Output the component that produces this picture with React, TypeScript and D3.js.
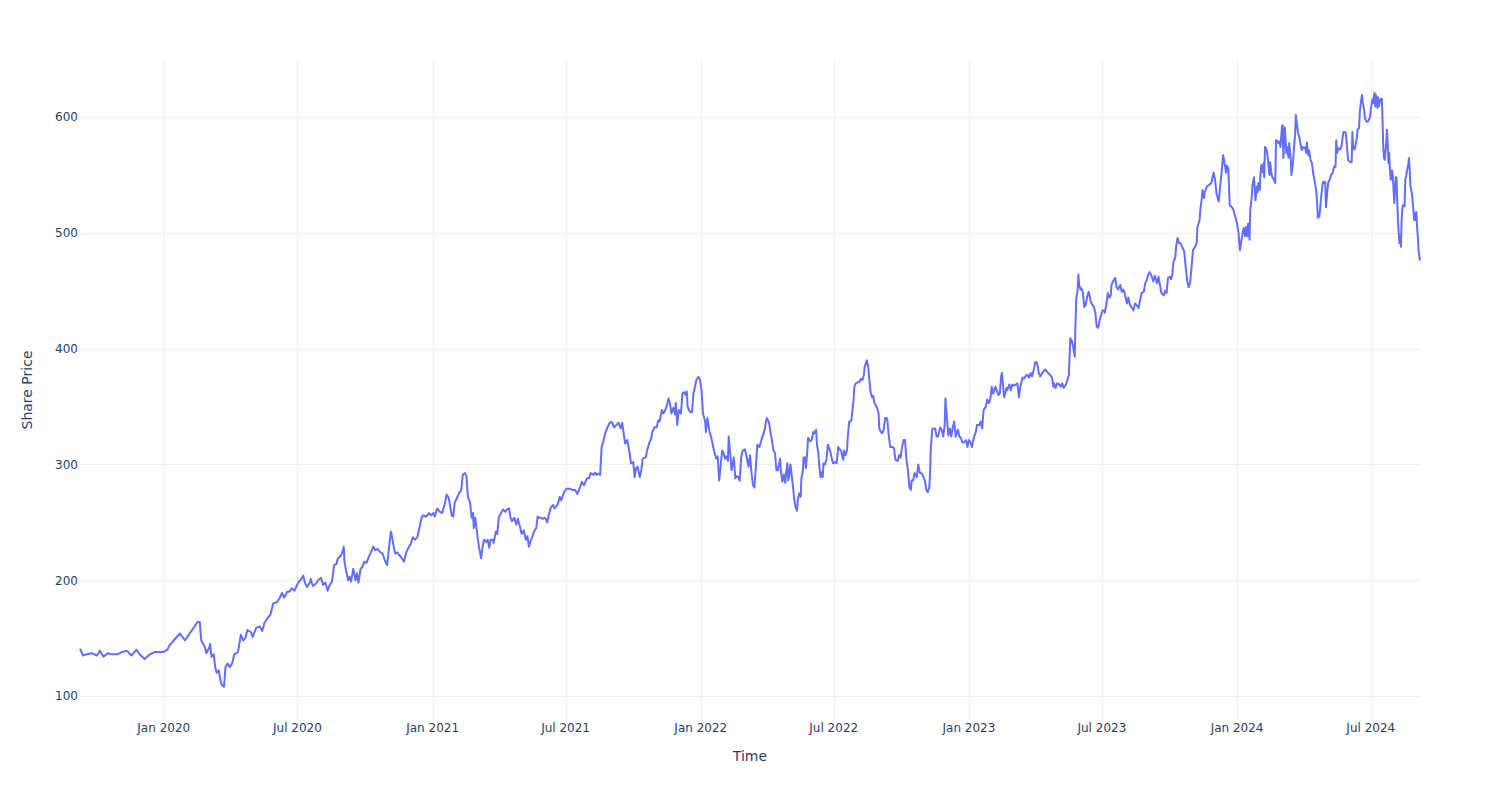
import React from "react";
import * as d3 from "d3";

type Pt = [string, number];

const prices2019: Pt[] = [
  ["2019-09-09",141],["2019-09-13",135],["2019-09-18",136],["2019-09-25",137],["2019-10-02",135],["2019-10-06",139],["2019-10-11",134],["2019-10-17",137],["2019-10-22",136],["2019-10-30",136],["2019-11-05",138],["2019-11-12",139],["2019-11-18",135],["2019-11-25",140],["2019-11-29",136],["2019-12-06",132],["2019-12-13",136],["2019-12-20",138],["2019-12-31",138],
];

const prices2020: Pt[] = [
  ["2020-01-06",140],["2020-01-09",144],["2020-01-16",149],["2020-01-23",154],["2020-01-30",148],["2020-02-05",154],["2020-02-12",160],["2020-02-16",164],["2020-02-19",164],["2020-02-21",148],["2020-02-26",142],["2020-02-28",137],["2020-03-03",142],["2020-03-04",145],["2020-03-06",134],["2020-03-09",136],["2020-03-11",125],["2020-03-13",120],["2020-03-16",122],["2020-03-18",114],["2020-03-20",109.5],["2020-03-23",108],["2020-03-25",125],["2020-03-28",128],["2020-03-31",125],["2020-04-03",128],["2020-04-06",136],["2020-04-11",138],["2020-04-15",153],["2020-04-18",148],["2020-04-21",150],["2020-04-24",157],["2020-04-29",155],["2020-05-01",151],["2020-05-06",159],["2020-05-11",160],["2020-05-14",156],["2020-05-17",163],["2020-05-22",168],["2020-05-25",170],["2020-05-29",180],["2020-06-03",181],["2020-06-07",185],["2020-06-10",189],["2020-06-13",185],["2020-06-17",190],["2020-06-20",190],["2020-06-23",193],["2020-06-27",191],["2020-07-02",198],["2020-07-05",200],["2020-07-09",204],["2020-07-11",198],["2020-07-14",194],["2020-07-18",198],["2020-07-19",201],["2020-07-22",195],["2020-07-26",197],["2020-07-29",200],["2020-08-02",202],["2020-08-05",196],["2020-08-08",198],["2020-08-11",191],["2020-08-14",196],["2020-08-17",199],["2020-08-20",213],["2020-08-23",214],["2020-08-25",219],["2020-08-29",221],["2020-08-31",224],["2020-09-02",229],["2020-09-03",216],["2020-09-05",209],["2020-09-08",200],["2020-09-10",203],["2020-09-12",199],["2020-09-15",210],["2020-09-18",200],["2020-09-20",206],["2020-09-22",198],["2020-09-25",210],["2020-09-27",211],["2020-09-30",216],["2020-10-03",215],["2020-10-06",220],["2020-10-09",224],["2020-10-12",229],["2020-10-15",226],["2020-10-18",227],["2020-10-22",224],["2020-10-25",223],["2020-10-28",217],["2020-10-31",213],["2020-11-02",224],["2020-11-05",242],["2020-11-06",240],["2020-11-09",229],["2020-11-11",223],["2020-11-14",224],["2020-11-16",222],["2020-11-19",220],["2020-11-23",216],["2020-11-26",224],["2020-11-29",228],["2020-12-02",231],["2020-12-05",237],["2020-12-08",235],["2020-12-11",237],["2020-12-14",245],["2020-12-17",254],["2020-12-19",256],["2020-12-23",255],["2020-12-27",258],["2020-12-30",256],
];

const prices2021: Pt[] = [
  ["2021-01-02",258],["2021-01-04",255],["2021-01-07",262],["2021-01-11",259],["2021-01-14",258],["2021-01-18",267],["2021-01-20",274],["2021-01-23",271],["2021-01-27",256],["2021-01-29",255],["2021-01-31",267],["2021-02-03",271],["2021-02-06",275],["2021-02-09",278],["2021-02-11",291],["2021-02-14",292.5],["2021-02-16",290],["2021-02-18",272],["2021-02-21",267],["2021-02-23",254],["2021-02-25",258],["2021-02-26",245],["2021-02-28",254],["2021-03-03",238],["2021-03-05",229],["2021-03-08",219],["2021-03-10",229],["2021-03-12",235],["2021-03-15",233],["2021-03-17",235],["2021-03-19",228],["2021-03-21",235],["2021-03-24",235],["2021-03-25",232],["2021-03-28",242],["2021-03-30",240],["2021-04-01",254],["2021-04-04",258],["2021-04-07",261],["2021-04-10",259],["2021-04-12",261],["2021-04-15",262],["2021-04-17",254],["2021-04-19",251],["2021-04-22",254],["2021-04-25",248],["2021-04-27",253],["2021-04-30",246],["2021-05-02",240],["2021-05-05",243],["2021-05-08",235],["2021-05-10",238],["2021-05-12",229],["2021-05-15",235],["2021-05-17",238],["2021-05-19",242],["2021-05-22",245],["2021-05-24",255],["2021-05-26",254],["2021-05-28",254],["2021-05-31",253],["2021-06-03",254],["2021-06-06",250],["2021-06-08",256],["2021-06-11",263],["2021-06-14",265],["2021-06-16",262],["2021-06-20",265],["2021-06-23",272],["2021-06-25",269],["2021-06-29",276],["2021-07-02",279],["2021-07-07",279],["2021-07-10",278],["2021-07-14",278],["2021-07-17",274.5],["2021-07-20",279],["2021-07-23",285],["2021-07-26",282],["2021-07-30",288],["2021-08-02",288],["2021-08-04",292.5],["2021-08-08",291],["2021-08-10",293],["2021-08-12",291],["2021-08-14",292],["2021-08-17",291],["2021-08-19",315],["2021-08-21",319],["2021-08-24",327],["2021-08-27",332],["2021-08-30",336],["2021-09-02",336.6],["2021-09-05",332],["2021-09-08",334],["2021-09-11",336],["2021-09-14",331],["2021-09-16",336],["2021-09-18",327],["2021-09-20",318],["2021-09-23",321],["2021-09-26",310],["2021-09-28",301],["2021-10-01",302],["2021-10-03",289],["2021-10-05",297],["2021-10-07",298],["2021-10-10",289],["2021-10-12",295],["2021-10-14",305],["2021-10-18",306],["2021-10-20",312],["2021-10-23",319],["2021-10-25",321],["2021-10-27",328],["2021-10-30",332],["2021-11-02",332],["2021-11-04",338],["2021-11-06",337],["2021-11-09",347],["2021-11-11",344],["2021-11-13",346],["2021-11-16",351],["2021-11-18",357],["2021-11-20",353],["2021-11-22",344],["2021-11-25",349],["2021-11-27",343],["2021-11-28",353],["2021-11-30",334],["2021-12-02",347],["2021-12-05",344],["2021-12-07",361],["2021-12-09",362.5],["2021-12-11",360],["2021-12-13",363],["2021-12-14",350],["2021-12-16",347],["2021-12-18",345],["2021-12-20",345],["2021-12-22",361],["2021-12-24",367],["2021-12-26",373],["2021-12-29",375.5],["2021-12-31",373],
];

const prices2022: Pt[] = [
  ["2022-01-02",364],["2022-01-04",344],["2022-01-07",337],["2022-01-08",328],["2022-01-10",340],["2022-01-13",328],["2022-01-15",324],["2022-01-17",318],["2022-01-19",312],["2022-01-22",305],["2022-01-24",307],["2022-01-26",286],["2022-01-28",298],["2022-01-30",312],["2022-02-01",310],["2022-02-03",305],["2022-02-05",307],["2022-02-07",303],["2022-02-08",324],["2022-02-10",310],["2022-02-12",295],["2022-02-15",306],["2022-02-17",288],["2022-02-19",290],["2022-02-21",289],["2022-02-23",286],["2022-02-25",306],["2022-02-27",312],["2022-03-02",313],["2022-03-04",308],["2022-03-07",298],["2022-03-09",308],["2022-03-11",293],["2022-03-13",282],["2022-03-15",280],["2022-03-17",298],["2022-03-19",317],["2022-03-22",315],["2022-03-24",320],["2022-03-26",324],["2022-03-29",330],["2022-03-31",338],["2022-04-01",340],["2022-04-04",336],["2022-04-06",327],["2022-04-07",324],["2022-04-10",312],["2022-04-12",310],["2022-04-14",295],["2022-04-16",295],["2022-04-19",305],["2022-04-20",295],["2022-04-22",285],["2022-04-24",291],["2022-04-26",284],["2022-04-27",292],["2022-04-29",301],["2022-04-30",286],["2022-05-01",289],["2022-05-03",300],["2022-05-05",289],["2022-05-07",278],["2022-05-08",271],["2022-05-10",263],["2022-05-12",260],["2022-05-13",269],["2022-05-15",275],["2022-05-17",272],["2022-05-18",288],["2022-05-20",295],["2022-05-21",306],["2022-05-23",306],["2022-05-24",297],["2022-05-26",311],["2022-05-27",323],["2022-05-30",320],["2022-06-01",321],["2022-06-03",328],["2022-06-05",327],["2022-06-07",330],["2022-06-08",318],["2022-06-10",310],["2022-06-11",301],["2022-06-13",289],["2022-06-14",293],["2022-06-16",289],["2022-06-17",301],["2022-06-19",300],["2022-06-21",304],["2022-06-23",317],["2022-06-26",312],["2022-06-28",306],["2022-06-30",301],["2022-07-03",302],["2022-07-05",301],["2022-07-07",315],["2022-07-09",313],["2022-07-11",312],["2022-07-13",306],["2022-07-14",304],["2022-07-15",312],["2022-07-17",308],["2022-07-19",312],["2022-07-20",323],["2022-07-22",337],["2022-07-24",337],["2022-07-25",338],["2022-07-28",356],["2022-07-29",367],["2022-07-31",370],["2022-08-03",371],["2022-08-05",371],["2022-08-07",374],["2022-08-09",373],["2022-08-11",377],["2022-08-12",384],["2022-08-14",388],["2022-08-15",390],["2022-08-17",384],["2022-08-18",376],["2022-08-20",363],["2022-08-22",358],["2022-08-24",359],["2022-08-25",354],["2022-08-27",351],["2022-08-29",349],["2022-08-31",344],["2022-09-01",331],["2022-09-03",328],["2022-09-05",327],["2022-09-07",330],["2022-09-09",340],["2022-09-11",340],["2022-09-12",338],["2022-09-14",324],["2022-09-16",315],["2022-09-19",315],["2022-09-21",314],["2022-09-23",304],["2022-09-26",303],["2022-09-28",308],["2022-09-30",306],["2022-10-02",315],["2022-10-04",321],["2022-10-06",321],["2022-10-08",304],["2022-10-10",295],["2022-10-12",280],["2022-10-14",278],["2022-10-15",286],["2022-10-17",286],["2022-10-19",292.5],["2022-10-22",289],["2022-10-24",300],["2022-10-26",293],["2022-10-29",292],["2022-10-31",289],["2022-11-02",286],["2022-11-04",278],["2022-11-06",276],["2022-11-08",280],["2022-11-09",291],["2022-11-10",312],["2022-11-12",330],["2022-11-13",331],["2022-11-16",331],["2022-11-18",324],["2022-11-20",324],["2022-11-23",332],["2022-11-25",330],["2022-11-27",324],["2022-11-29",334],["2022-11-30",357],["2022-12-02",340],["2022-12-04",325],["2022-12-06",331],["2022-12-08",324],["2022-12-10",332],["2022-12-12",337],["2022-12-14",324],["2022-12-17",330],["2022-12-19",324],["2022-12-21",323],["2022-12-23",319],["2022-12-25",319],["2022-12-28",321],["2022-12-30",315],
];

const prices2023: Pt[] = [
  ["2023-01-01",321],["2023-01-03",319],["2023-01-05",315],["2023-01-08",324],["2023-01-10",327],["2023-01-12",334],["2023-01-15",334],["2023-01-17",337],["2023-01-19",331],["2023-01-21",347],["2023-01-24",350],["2023-01-26",356],["2023-01-28",353],["2023-01-30",356],["2023-02-01",367],["2023-02-03",361],["2023-02-06",367],["2023-02-08",364],["2023-02-10",360],["2023-02-12",361],["2023-02-14",377],["2023-02-15",379],["2023-02-17",364],["2023-02-18",358],["2023-02-21",366],["2023-02-22",364],["2023-02-25",369],["2023-02-27",364],["2023-03-01",369],["2023-03-03",368],["2023-03-06",369],["2023-03-08",370],["2023-03-10",358],["2023-03-12",367],["2023-03-15",375],["2023-03-17",374],["2023-03-19",376],["2023-03-21",377.5],["2023-03-24",375],["2023-03-26",379],["2023-03-28",376],["2023-03-31",384],["2023-04-01",388],["2023-04-03",388.5],["2023-04-05",384],["2023-04-06",379],["2023-04-08",376],["2023-04-10",378],["2023-04-12",380],["2023-04-15",382],["2023-04-17",380],["2023-04-19",379],["2023-04-21",377.5],["2023-04-24",375],["2023-04-26",367],["2023-04-27",370],["2023-04-29",366],["2023-05-01",370],["2023-05-04",369],["2023-05-06",367],["2023-05-08",370],["2023-05-10",366],["2023-05-13",369],["2023-05-15",373],["2023-05-17",377],["2023-05-19",409],["2023-05-21",407],["2023-05-23",401],["2023-05-25",393],["2023-05-26",420],["2023-05-27",442],["2023-05-29",451],["2023-05-30",464],["2023-05-31",455],["2023-06-02",451],["2023-06-03",452],["2023-06-05",449],["2023-06-07",436],["2023-06-09",438],["2023-06-11",445],["2023-06-13",449],["2023-06-14",446],["2023-06-16",440],["2023-06-18",438],["2023-06-20",436],["2023-06-22",431],["2023-06-23",425],["2023-06-24",419],["2023-06-26",418],["2023-06-28",425],["2023-06-30",429],["2023-07-02",433],["2023-07-04",433],["2023-07-05",431],["2023-07-07",438],["2023-07-09",448],["2023-07-11",444],["2023-07-13",446],["2023-07-14",455],["2023-07-17",459],["2023-07-19",461],["2023-07-21",453],["2023-07-23",451],["2023-07-26",455],["2023-07-28",449],["2023-07-30",451],["2023-08-01",448],["2023-08-04",439],["2023-08-06",444],["2023-08-08",438],["2023-08-11",435],["2023-08-13",433],["2023-08-15",439],["2023-08-18",437],["2023-08-20",435],["2023-08-22",442],["2023-08-24",448],["2023-08-27",449],["2023-08-29",456.5],["2023-08-31",459],["2023-09-02",464],["2023-09-04",466],["2023-09-07",462],["2023-09-09",458],["2023-09-11",463],["2023-09-14",456.5],["2023-09-16",462],["2023-09-18",455],["2023-09-20",448],["2023-09-23",446],["2023-09-25",450],["2023-09-27",448],["2023-09-29",461],["2023-10-02",462],["2023-10-03",460],["2023-10-05",464],["2023-10-06",474],["2023-10-09",479],["2023-10-10",488],["2023-10-12",495.5],["2023-10-14",491],["2023-10-16",491],["2023-10-19",487],["2023-10-21",484],["2023-10-23",471],["2023-10-25",459],["2023-10-27",453],["2023-10-29",456.5],["2023-10-31",470],["2023-11-02",485],["2023-11-05",488],["2023-11-07",491],["2023-11-08",505],["2023-11-11",511],["2023-11-12",520],["2023-11-14",530],["2023-11-15",537],["2023-11-17",530],["2023-11-18",535],["2023-11-21",540],["2023-11-23",541],["2023-11-25",542],["2023-11-27",543],["2023-11-30",552],["2023-12-02",546],["2023-12-04",534],["2023-12-07",527],["2023-12-09",540],["2023-12-11",552.5],["2023-12-13",567],["2023-12-15",560],["2023-12-17",552],["2023-12-18",558],["2023-12-20",556],["2023-12-22",524],["2023-12-25",522],["2023-12-27",520],["2023-12-29",515],
];

const prices2024: Pt[] = [
  ["2024-01-01",508],["2024-01-03",500],["2024-01-04",491],["2024-01-05",485],["2024-01-07",494],["2024-01-09",501],["2024-01-10",504],["2024-01-12",497],["2024-01-13",505],["2024-01-15",497],["2024-01-16",508],["2024-01-18",494],["2024-01-19",520],["2024-01-21",531],["2024-01-22",541],["2024-01-24",548],["2024-01-25",538.5],["2024-01-26",528],["2024-01-28",540],["2024-01-29",535],["2024-01-30",543],["2024-02-01",537],["2024-02-02",552.5],["2024-02-03",558.5],["2024-02-05",552],["2024-02-06",560],["2024-02-07",548],["2024-02-08",574],["2024-02-10",572],["2024-02-11",569],["2024-02-13",557],["2024-02-14",550],["2024-02-15",561],["2024-02-17",550],["2024-02-18",548],["2024-02-20",546],["2024-02-22",543],["2024-02-23",580],["2024-02-25",579],["2024-02-26",577.5],["2024-02-28",579],["2024-02-29",574],["2024-03-02",591],["2024-03-03",593],["2024-03-04",564.6],["2024-03-06",591],["2024-03-08",569],["2024-03-09",574],["2024-03-11",565],["2024-03-12",577.5],["2024-03-14",564],["2024-03-15",550],["2024-03-17",560],["2024-03-18",569],["2024-03-20",586],["2024-03-21",601.7],["2024-03-23",591],["2024-03-24",586],["2024-03-26",582],["2024-03-27",577.5],["2024-03-29",571.5],["2024-03-30",574],["2024-04-01",573],["2024-04-03",574],["2024-04-04",569],["2024-04-05",578],["2024-04-07",567],["2024-04-08",571],["2024-04-10",563],["2024-04-12",560],["2024-04-13",554],["2024-04-14",550],["2024-04-16",543],["2024-04-18",535],["2024-04-19",525.7],["2024-04-20",513],["2024-04-22",514],["2024-04-23",520],["2024-04-24",528],["2024-04-26",540],["2024-04-27",544],["2024-04-28",543],["2024-04-30",544],["2024-05-01",522],["2024-05-03",537],["2024-05-04",543],["2024-05-06",546],["2024-05-08",550],["2024-05-10",551.6],["2024-05-12",557],["2024-05-14",557],["2024-05-15",580],["2024-05-16",569],["2024-05-18",573],["2024-05-20",572],["2024-05-22",574],["2024-05-24",584],["2024-05-25",587],["2024-05-27",587],["2024-05-28",586],["2024-05-30",571.5],["2024-05-31",563],["2024-06-03",561],["2024-06-05",561],["2024-06-06",587],["2024-06-07",573],["2024-06-09",572],["2024-06-10",575],["2024-06-12",582],["2024-06-13",589],["2024-06-15",590.5],["2024-06-16",603],["2024-06-17",610],["2024-06-19",619],["2024-06-20",613],["2024-06-22",606],["2024-06-23",599],["2024-06-25",596],["2024-06-27",596],["2024-06-28",597],["2024-06-30",600],["2024-07-01",606],["2024-07-03",615],["2024-07-04",612],["2024-07-06",621],["2024-07-07",609],["2024-07-08",619],["2024-07-10",608],["2024-07-11",617],["2024-07-12",609],["2024-07-14",615],["2024-07-16",616],["2024-07-17",597],["2024-07-18",574],["2024-07-19",564.6],["2024-07-20",563],["2024-07-22",577.5],["2024-07-23",589],["2024-07-24",577],["2024-07-25",560],["2024-07-26",569],["2024-07-27",557],["2024-07-28",546],["2024-07-29",546],["2024-07-30",554],["2024-07-31",549],["2024-08-01",537],["2024-08-02",525.7],["2024-08-03",537],["2024-08-04",548],["2024-08-05",548],["2024-08-06",528],["2024-08-07",511],["2024-08-08",500],["2024-08-09",491],["2024-08-10",497],["2024-08-11",488],["2024-08-12",511],["2024-08-13",521],["2024-08-14",524],["2024-08-16",523],["2024-08-17",547],["2024-08-18",548],["2024-08-19",552.5],["2024-08-20",556],["2024-08-21",558.5],["2024-08-22",564.6],["2024-08-23",554],["2024-08-24",540],["2024-08-26",534],["2024-08-27",527],["2024-08-28",520],["2024-08-29",511],["2024-08-30",517],["2024-08-31",511],["2024-09-01",518],["2024-09-02",505],["2024-09-03",497],["2024-09-04",485],["2024-09-06",476],
];

const yTickValues = [100, 200, 300, 400, 500, 600];
const yRange: [number, number] = [79.3, 649.2];
const xTitle = "Time";
const yTitle = "Share Price";

const WIDTH = 1500;
const HEIGHT = 800;
const M = { left: 80, right: 80, top: 60, bottom: 80 };
const FONT = "'DejaVu Sans', Verdana, sans-serif";
const TEXT_COLOR = "#2a3f5f";
const GRID_COLOR = "#EBF0F8";
const LINE_COLOR = "#636efa";

export default function App() {
  const parse = d3.timeParse("%Y-%m-%d");
  const data = [...prices2019, ...prices2020, ...prices2021, ...prices2022, ...prices2023, ...prices2024].map(
    ([d, v]) => ({ date: parse(d) as Date, value: v })
  );

  const x = d3
    .scaleTime()
    .domain(d3.extent(data, (d) => d.date) as [Date, Date])
    .range([M.left, WIDTH - M.right]);
  const y = d3.scaleLinear().domain(yRange).range([HEIGHT - M.bottom, M.top]);

  const xTicks = x.ticks(d3.timeMonth.every(6) as d3.TimeInterval);
  const fmt = d3.timeFormat("%b %Y");

  const line = d3
    .line<{ date: Date; value: number }>()
    .x((d) => x(d.date))
    .y((d) => y(d.value));

  const plotTop = M.top;
  const plotBottom = HEIGHT - M.bottom;
  const plotLeft = M.left;
  const plotRight = WIDTH - M.right;

  return (
    <svg
      width={WIDTH}
      height={HEIGHT}
      style={{ position: "absolute", left: 0, top: 0, background: "#fff" }}
      fontFamily={FONT}
    >
      <rect x={0} y={0} width={WIDTH} height={HEIGHT} fill="#fff" />
      <g shapeRendering="crispEdges">
        {xTicks.map((t, i) => (
          <line
            key={"xg" + i}
            x1={Math.round(x(t))}
            x2={Math.round(x(t))}
            y1={plotTop}
            y2={plotBottom}
            stroke={GRID_COLOR}
            strokeWidth={1}
          />
        ))}
        {yTickValues.map((t, i) => (
          <line
            key={"yg" + i}
            x1={plotLeft}
            x2={plotRight}
            y1={Math.round(y(t))}
            y2={Math.round(y(t))}
            stroke={GRID_COLOR}
            strokeWidth={1}
          />
        ))}
      </g>
      <path
        d={line(data) || ""}
        fill="none"
        stroke={LINE_COLOR}
        strokeWidth={2}
        strokeLinejoin="round"
      />
      {xTicks.map((t, i) => (
        <text
          key={"xt" + i}
          x={x(t)}
          y={732}
          textAnchor="middle"
          fontSize={12}
          fill={TEXT_COLOR}
        >
          {fmt(t)}
        </text>
      ))}
      {yTickValues.map((t, i) => (
        <text
          key={"yt" + i}
          x={78}
          y={y(t) + 4.3}
          textAnchor="end"
          fontSize={12}
          fill={TEXT_COLOR}
        >
          {t}
        </text>
      ))}
      <text x={(plotLeft + plotRight) / 2} y={761} textAnchor="middle" fontSize={14} fill={TEXT_COLOR}>
        {xTitle}
      </text>
      <text
        transform={`translate(32, ${(plotTop + plotBottom) / 2}) rotate(-90)`}
        textAnchor="middle"
        fontSize={14}
        fill={TEXT_COLOR}
      >
        {yTitle}
      </text>
    </svg>
  );
}
